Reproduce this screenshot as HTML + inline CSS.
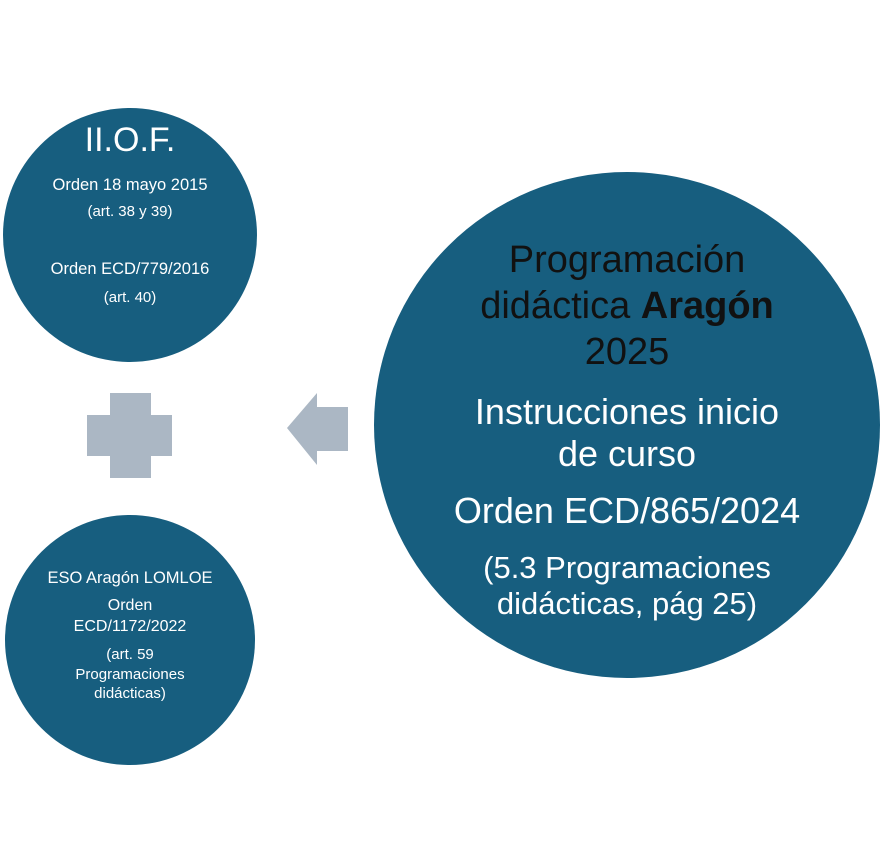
<!DOCTYPE html>
<html><head><meta charset="utf-8"><style>
html,body{margin:0;padding:0;background:#fff}
svg{display:block}
text{font-family:"Liberation Sans",sans-serif;fill:#fff;text-anchor:middle}
</style></head><body>
<svg width="887" height="857" viewBox="0 0 887 857" xmlns="http://www.w3.org/2000/svg">
<circle cx="130" cy="235" r="127" fill="#175E7F"/>
<circle cx="130" cy="640" r="125" fill="#175E7F"/>
<circle cx="627" cy="425" r="253" fill="#175E7F"/>
<path d="M110 393H151V415H172V456H151V478H110V456H87V415H110Z" fill="#ABB7C4"/>
<path d="M287 428L317 393V407H348V451H317V465Z" fill="#ABB7C4"/>
<text x="130" y="151" font-size="34">II.O.F.</text>
<text x="130" y="190" font-size="16.5">Orden 18 mayo 2015</text>
<text x="130" y="216" font-size="15">(art. 38 y 39)</text>
<text x="130" y="274" font-size="16.5">Orden ECD/779/2016</text>
<text x="130" y="302" font-size="15">(art. 40)</text>
<text x="130" y="583" font-size="16.5">ESO Aragón LOMLOE</text>
<text x="130" y="610" font-size="16">Orden</text>
<text x="130" y="631" font-size="16">ECD/1172/2022</text>
<text x="130" y="659" font-size="15">(art. 59</text>
<text x="130" y="679" font-size="15">Programaciones</text>
<text x="130" y="698" font-size="15">didácticas)</text>
<text x="627" y="272" font-size="38" style="fill:#111">Programación</text>
<text x="627" y="318" font-size="38" style="fill:#111">didáctica <tspan font-weight="bold">Aragón</tspan></text>
<text x="627" y="364" font-size="38" style="fill:#111">2025</text>
<text x="627" y="424" font-size="36">Instrucciones inicio</text>
<text x="627" y="466" font-size="36">de curso</text>
<text x="627" y="523" font-size="36">Orden ECD/865/2024</text>
<text x="627" y="578" font-size="31">(5.3 Programaciones</text>
<text x="627" y="614" font-size="31">didácticas, pág 25)</text>
</svg>
</body></html>
